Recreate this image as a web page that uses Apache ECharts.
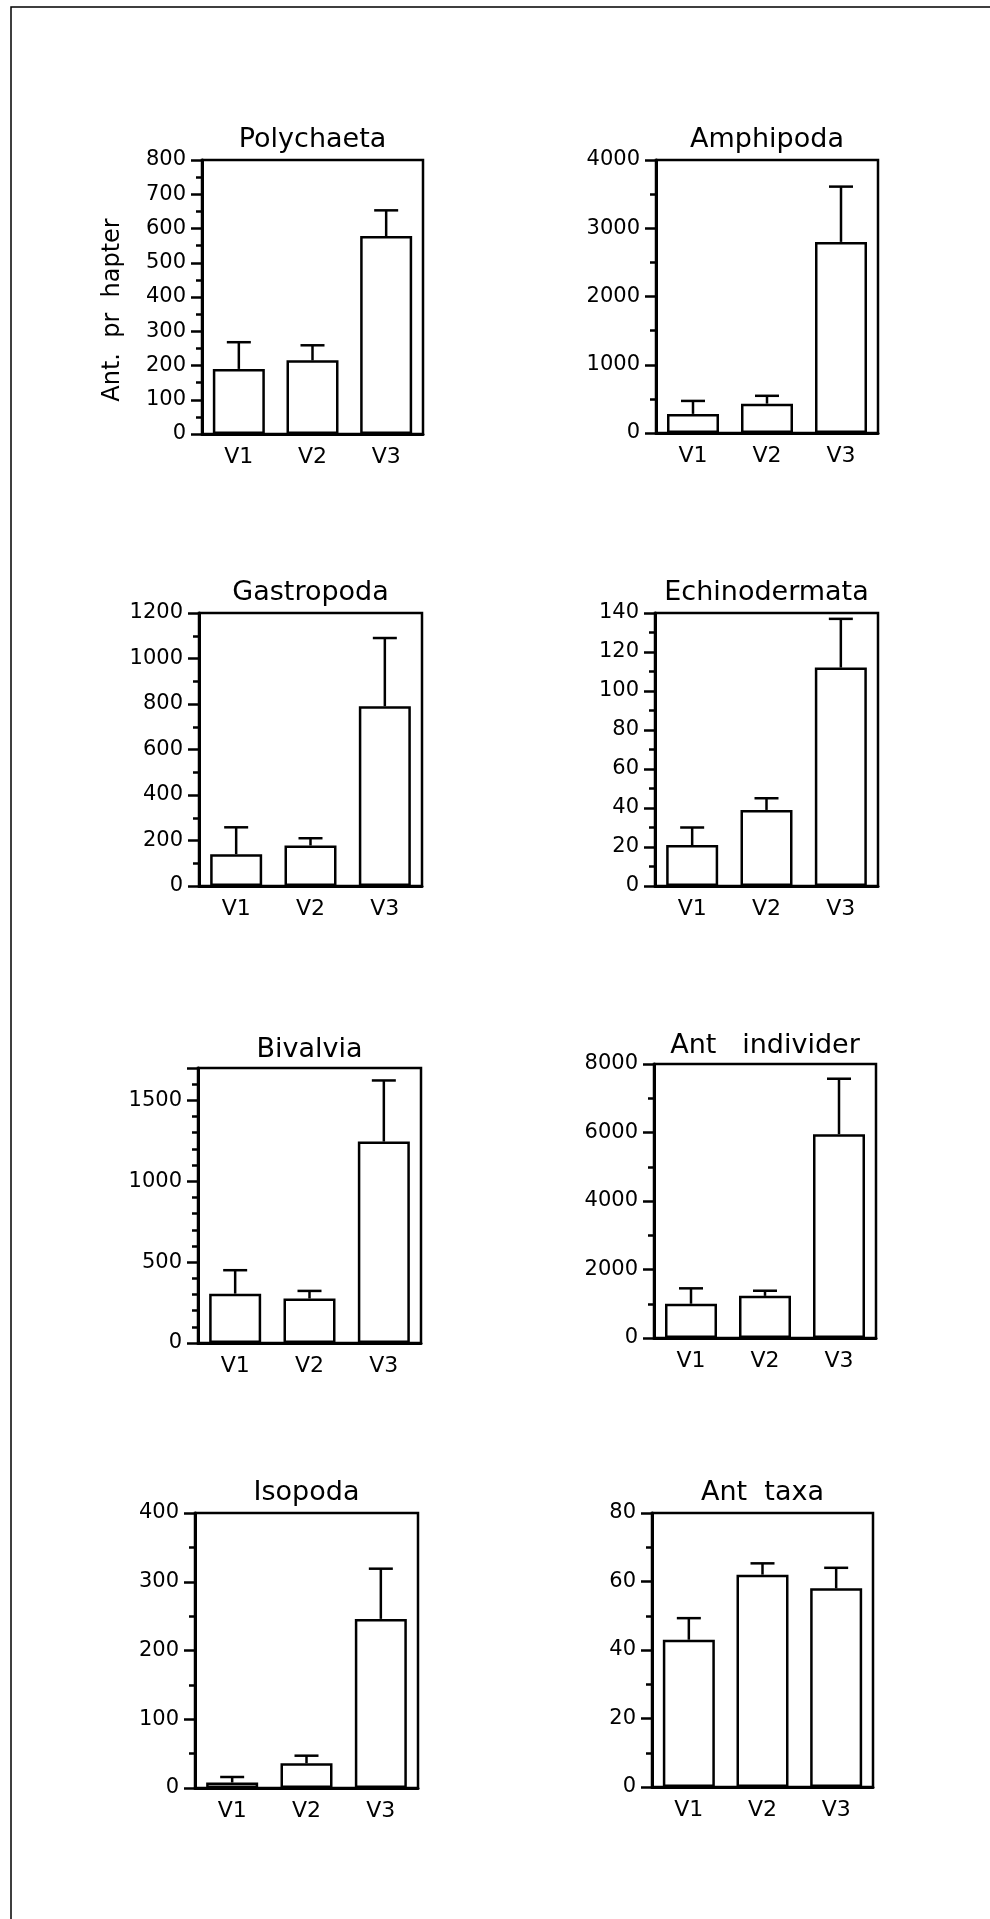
<!DOCTYPE html>
<html>
<head>
<meta charset="utf-8">
<title>Ant. pr hapter</title>
<script src="https://cdn.jsdelivr.net/npm/echarts@6/dist/echarts.min.js"></script>
<style>
  html, body { margin: 0; padding: 0; background: #fff; }
  #chart { width: 990px; height: 1919px; }
</style>
</head>
<body>
<div id="chart"></div>
<script>
// stations
const categories = ["V1", "V2", "V3"];

// panel titles
const titles = ["Polychaeta", "Amphipoda", "Gastropoda", "Echinodermata",
  "Bivalvia", "Ant   individer", "Isopoda", "Ant  taxa"];

// mean per station
const polychaeta = [190, 215, 578];
const amphipoda = [280, 430, 2800];
const gastropoda = [140, 178, 790];
const echinodermata = [21, 39, 112];
const bivalvia = [305, 275, 1245];
const antIndivider = [1000, 1230, 5950];
const isopoda = [8, 36, 246];
const antTaxa = [43, 62, 58];

// upper error bar length (mean + err = top of whisker)
const polychaetaErr = [78, 44, 75];
const amphipodaErr = [190, 115, 810];
const gastropodaErr = [118, 32, 300];
const echinodermataErr = [9, 6, 25];
const bivalviaErr = [145, 47, 378];
const antIndividerErr = [450, 150, 1620];
const isopodaErr = [8, 11, 73];
const antTaxaErr = [6.3, 3.3, 6];

// y axis: max, labelled step, minor step
const yMax = [800, 4000, 1200, 140, 1700, 8000, 400, 80];
const yStep = [100, 1000, 200, 20, 500, 2000, 100, 20];
const yMinor = [50, 500, 100, 10, 100, 1000, 50, 10];

const yName = "Ant.  pr  hapter";

const means = [polychaeta, amphipoda, gastropoda, echinodermata, bivalvia, antIndivider, isopoda, antTaxa];
const errs = [polychaetaErr, amphipodaErr, gastropodaErr, echinodermataErr, bivalviaErr, antIndividerErr, isopodaErr, antTaxaErr];

// plot boxes (left, top, width, height) - scan is slightly skewed
const boxes = [
  [202, 160, 221, 274], [656, 160, 222, 273],
  [199, 613, 223, 273], [655, 613, 223, 273],
  [198, 1068, 223, 275], [654, 1064, 222, 274],
  [195, 1513, 223, 275], [652, 1513, 221, 274]
];
const titleBase = [147, 147, 600, 600, 1057, 1053, 1500, 1500];

const FONT = "DejaVu Sans";
const ink = "#000";

let grid = [], xAxis = [], yAxis = [], series = [], graphic = [];

function renderErr(params, api) {
  let base = api.coord([api.value(0), api.value(1)]);
  let top = api.coord([api.value(0), api.value(1) + api.value(2)]);
  let st = { stroke: ink, lineWidth: 2.5, fill: null };
  return {
    type: "group",
    children: [
      { type: "line", shape: { x1: base[0], y1: base[1], x2: top[0], y2: top[1] }, style: st },
      { type: "line", shape: { x1: top[0] - 12, y1: top[1], x2: top[0] + 12, y2: top[1] }, style: st }
    ]
  };
}

for (let i = 0; i < 8; i++) {
  let b = boxes[i];
  grid.push({
    left: b[0], top: b[1], width: b[2], height: b[3],
    show: true, borderColor: ink, borderWidth: 2.5, backgroundColor: "transparent"
  });
  xAxis.push({
    gridIndex: i, type: "category", data: categories,
    axisLine: { lineStyle: { color: ink, width: 3 } },
    axisTick: { length: 7, lineStyle: { color: ink, width: 2.5 } },
    axisLabel: { color: ink, fontFamily: FONT, fontSize: 22, margin: 12 },
    splitLine: { show: false }
  });
  // labelled axis with long ticks
  let step = yStep[i];
  yAxis.push({
    gridIndex: i, type: "value", position: "left", min: 0, max: yMax[i], interval: step,
    axisLine: { show: true, lineStyle: { color: ink, width: 3 } },
    axisTick: { show: true, length: 11, lineStyle: { color: ink, width: 2.5 } },
    axisLabel: {
      color: ink, fontFamily: FONT, fontSize: 21, margin: 16,
      formatter: v => (v % step === 0 ? String(v) : "")
    },
    splitLine: { show: false }
  });
  // second axis on the same side, only for the short minor ticks
  yAxis.push({
    gridIndex: i, type: "value", position: "left", offset: 0,
    min: 0, max: yMax[i], interval: yMinor[i],
    axisLine: { show: false },
    axisTick: { show: true, length: 6, lineStyle: { color: ink, width: 2.5 } },
    axisLabel: { show: false },
    splitLine: { show: false }
  });
  series.push({
    type: "bar", xAxisIndex: i, yAxisIndex: 2 * i,
    data: means[i], barWidth: 52,
    itemStyle: { color: "#fff", borderColor: ink, borderWidth: 2.5 },
    silent: true
  });
  series.push({
    type: "custom", xAxisIndex: i, yAxisIndex: 2 * i,
    data: means[i].map((m, k) => [k, m, errs[i][k]]),
    renderItem: renderErr, z: 3, silent: true
  });
  graphic.push({
    type: "text", x: b[0] + b[2] / 2, y: titleBase[i] + 6,
    style: {
      text: titles[i], fill: ink, font: "27px '" + FONT + "'",
      textAlign: "center", textVerticalAlign: "bottom"
    }
  });
}

// y axis name on the first panel
graphic.push({
  type: "text", x: 113, y: 310, rotation: Math.PI / 2,
  style: { text: yName, fill: ink, font: "24px '" + FONT + "'", textAlign: "center", textVerticalAlign: "middle" }
});
// outer frame of the figure
graphic.push({
  type: "rect", shape: { x: 11, y: 7, width: 1100, height: 2000 },
  style: { fill: null, stroke: ink, lineWidth: 1.5 }
});

let myChart = echarts.init(document.getElementById("chart"));
myChart.setOption({
  backgroundColor: "#fff",
  animation: false,
  grid: grid,
  xAxis: xAxis,
  yAxis: yAxis,
  series: series,
  graphic: graphic
});
</script>
</body>
</html>
